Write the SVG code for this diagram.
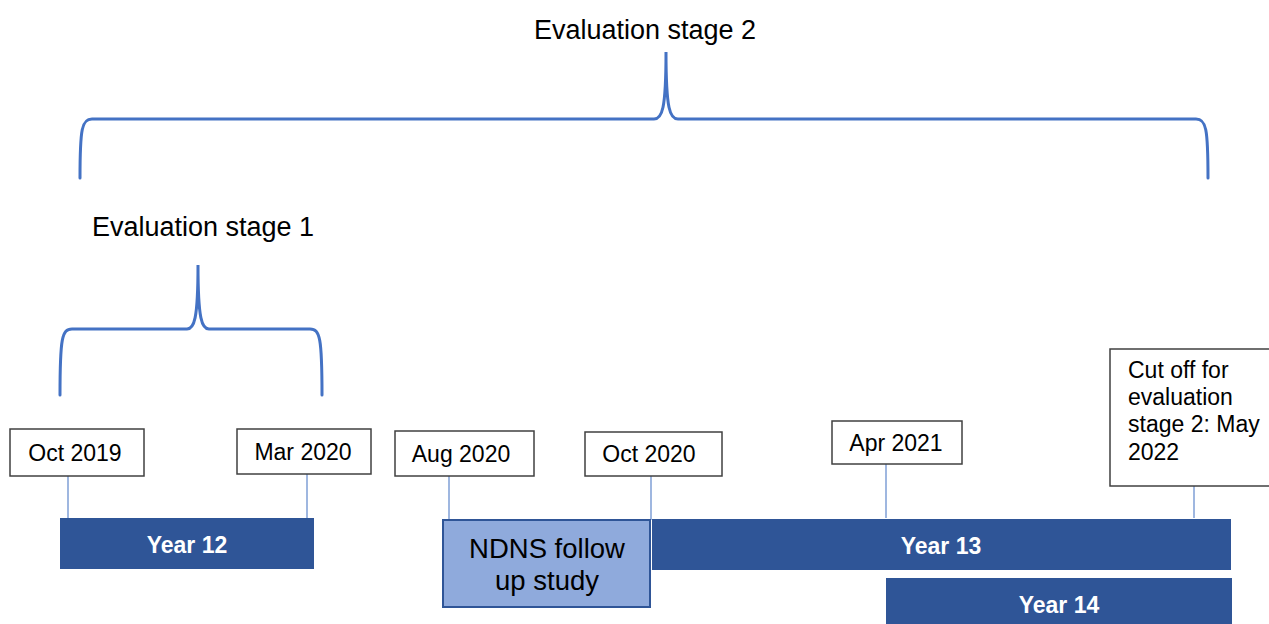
<svg xmlns="http://www.w3.org/2000/svg" width="1269" height="624" viewBox="0 0 1269 624">
<style>
.brace{fill:none;stroke:#4472C4;stroke-width:3;stroke-linecap:round}
.tick{stroke:#7F9FD6;stroke-width:1.5}
.date{fill:#fff;stroke:#404040;stroke-width:1.5}
.t{font-family:"Liberation Sans",Arial,sans-serif;fill:#000}
.bar{fill:#2F5597}
.bt{font-family:"Liberation Sans",Arial,sans-serif;font-weight:bold;fill:#fff;font-size:23px;text-anchor:middle}
</style>
<rect width="1269" height="624" fill="#fff"/>
<g id="stage2">
<path class="brace" d="M80,178 C80,128 82,119 92,119 L654,119 C662,119 666,110 666,52 C666,110 670,119 678,119 L1196,119 C1206,119 1208,128 1208,178"/>
<text class="t" x="645" y="39" font-size="27" text-anchor="middle">Evaluation stage 2</text>
</g>
<g id="stage1">
<path class="brace" d="M60,395 C60,338 62,329 72,329 L187,329 C194,329 198,320 198,265 C198,320 202,329 209,329 L310,329 C320,329 322,338 322,395"/>
<text class="t" x="203" y="236" font-size="27" text-anchor="middle">Evaluation stage 1</text>
</g>
<g id="connectors">
<line class="tick" x1="68" y1="476" x2="68" y2="518"/>
<line class="tick" x1="307" y1="474" x2="307" y2="518"/>
<line class="tick" x1="449" y1="476" x2="449" y2="520"/>
<line class="tick" x1="651" y1="476" x2="651" y2="520"/>
<line class="tick" x1="886" y1="464" x2="886" y2="518"/>
<line class="tick" x1="1194" y1="486" x2="1194" y2="518"/>
</g>
<g id="oct2019">
<rect class="date" x="10" y="429" width="134" height="47"/>
<text class="t" x="75" y="461" font-size="23" text-anchor="middle">Oct 2019</text>
</g>
<g id="mar2020">
<rect class="date" x="237" y="429" width="134" height="45"/>
<text class="t" x="303" y="460" font-size="23" text-anchor="middle">Mar 2020</text>
</g>
<g id="aug2020">
<rect class="date" x="395" y="431" width="139" height="45"/>
<text class="t" x="461" y="462" font-size="23" text-anchor="middle">Aug 2020</text>
</g>
<g id="oct2020">
<rect class="date" x="585" y="432" width="137" height="44"/>
<text class="t" x="649" y="462" font-size="23" text-anchor="middle">Oct 2020</text>
</g>
<g id="apr2021">
<rect class="date" x="832" y="421" width="130" height="43"/>
<text class="t" x="896" y="451" font-size="23" text-anchor="middle">Apr 2021</text>
</g>
<g id="cutoff">
<rect class="date" x="1110" y="349" width="170" height="137"/>
<text class="t" x="1128" y="378" font-size="23">Cut off for</text>
<text class="t" x="1128" y="405" font-size="23">evaluation</text>
<text class="t" x="1128" y="432" font-size="23">stage 2: May</text>
<text class="t" x="1128" y="460" font-size="23">2022</text>
</g>
<g id="year12">
<rect class="bar" x="60" y="518" width="254" height="51"/>
<text class="bt" x="187" y="553">Year 12</text>
</g>
<g id="ndns">
<rect x="443" y="520" width="207" height="87" fill="#8FAADC" stroke="#2F5597" stroke-width="2"/>
<text class="t" x="547" y="558" font-size="27.5" text-anchor="middle">NDNS follow</text>
<text class="t" x="547" y="590" font-size="27.5" text-anchor="middle">up study</text>
</g>
<g id="year13">
<rect class="bar" x="652" y="519" width="579" height="51"/>
<text class="bt" x="941" y="554">Year 13</text>
</g>
<g id="year14">
<rect class="bar" x="886" y="578" width="346" height="50"/>
<text class="bt" x="1059" y="613">Year 14</text>
</g>
</svg>
